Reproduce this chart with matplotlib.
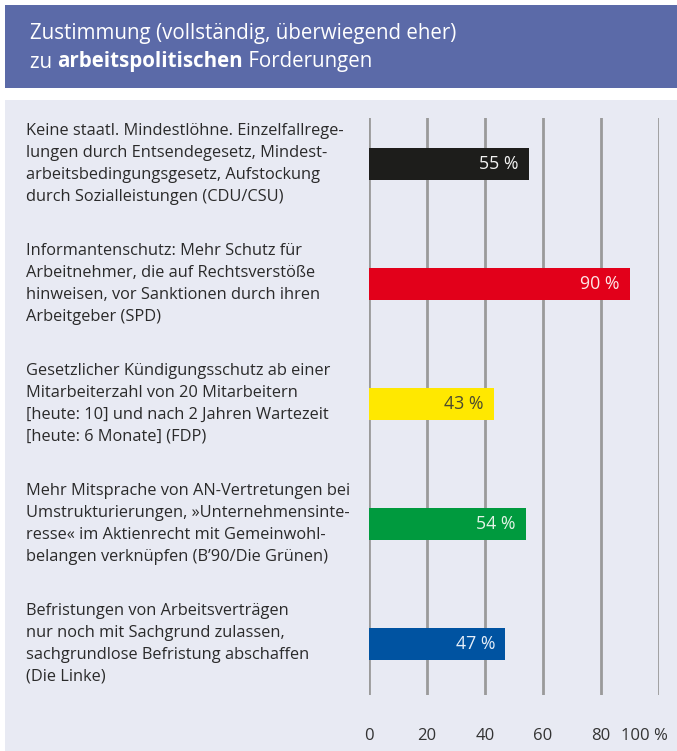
import matplotlib
matplotlib.use("Agg")
import matplotlib.pyplot as plt
from matplotlib import font_manager
from matplotlib.patches import Rectangle
from matplotlib.transforms import blended_transform_factory, offset_copy

names = {f.name for f in font_manager.fontManager.ttflist}
FONT = "Liberation Sans Narrow" if "Liberation Sans Narrow" in names else "Open Sans"
plt.rcParams['font.family'] = [FONT, 'DejaVu Sans']

labels = [
    "Keine staatl. Mindestlöhne. Einzelfallrege-\nlungen durch Entsendegesetz, Mindest-\narbeitsbedingungsgesetz, Aufstockung\ndurch Sozialleistungen (CDU/CSU)",
    "Informantenschutz: Mehr Schutz für\nArbeitnehmer, die auf Rechtsverstöße\nhinweisen, vor Sanktionen durch ihren\nArbeitgeber (SPD)",
    "Gesetzlicher Kündigungsschutz ab einer\nMitarbeiterzahl von 20 Mitarbeitern\n[heute: 10] und nach 2 Jahren Wartezeit\n[heute: 6 Monate] (FDP)",
    "Mehr Mitsprache von AN-Vertretungen bei\nUmstrukturierungen, »Unternehmensinte-\nresse« im Aktienrecht mit Gemeinwohl-\nbelangen verknüpfen (B’90/Die Grünen)",
    "Befristungen von Arbeitsverträgen\nnur noch mit Sachgrund zulassen,\nsachgrundlose Befristung abschaffen\n(Die Linke)",
]
values = [55, 90, 43, 54, 47]
colors = ["#1d1d1b", "#e2001a", "#ffe800", "#009a3e", "#0053a1"]
text_colors = ["#f2f2f2", "#fde6e6", "#4a4a30", "#e3f3e6", "#e6eef8"]
xticks = [0, 20, 40, 60, 80, 100]
xticklabels = ["0", "20", "40", "60", "80", "100 %"]

W, H = 677, 751
fig = plt.figure(figsize=(W / 100, H / 100), dpi=100)
fig.patch.set_facecolor("white")

# backgrounds
fig.patches.append(Rectangle((5 / W, 1 - 88 / H), 1, 83 / H, transform=fig.transFigure,
                             facecolor="#5b6aa8", edgecolor="none", zorder=0))
fig.patches.append(Rectangle((5 / W, 0), 1, 1 - 100 / H, transform=fig.transFigure,
                             facecolor="#e8eaf3", edgecolor="none", zorder=0))

# header text
HFS = 14.8
fig.text(30 / W, 1 - 33 / H, "Zustimmung (vollständig, überwiegend eher)", color="white",
         fontsize=HFS, va="center", ha="left")
renderer = fig.canvas.get_renderer()
x = 30 / W
for part, weight in [("zu ", "normal"), ("arbeitspolitischen", "bold"), (" Forderungen", "normal")]:
    t = fig.text(x, 1 - 62 / H, part, color="white", fontsize=HFS, fontweight=weight,
                 va="center", ha="left")
    bb = t.get_window_extent(renderer)
    x = bb.x1 / W

ax = fig.add_axes([369 / W, 1 - 695 / H, 290 / W, (695 - 118) / H])
ax.set_zorder(5)
ax.set_facecolor("none")
ypos = list(range(len(values)))
ax.set_xlim(0, 100)
ax.set_ylim(4.425, -0.383)
for x0 in xticks:
    ax.axvline(x0, color="#9a9a9a", lw=2, zorder=1)
ax.barh(ypos, values, height=0.27, color=colors, zorder=2)
for y, v, tc in zip(ypos, values, text_colors):
    ax.text(v - 3.5, y, f"{v} %", color=tc, fontsize=12.8, ha="right", va="center", zorder=3)

tr = blended_transform_factory(fig.transFigure, ax.transData)
for y, lab in zip(ypos, labels):
    ax.text(26 / W, y, lab, transform=tr, ha="left", va="center", fontsize=11.8,
            color="#2a2a2a", linespacing=1.5, clip_on=False)

ax.set_yticks([])
ax.set_xticks(xticks)
ax.set_xticklabels(xticklabels, fontsize=12, color="#333333")
ax.tick_params(axis="x", length=0, pad=24)
last = ax.get_xticklabels()[-1]
last.set_ha("right")
last.set_transform(offset_copy(last.get_transform(), fig=fig, x=9, units="dots"))
for s in ax.spines.values():
    s.set_visible(False)

fig.savefig("out.png", dpi=100)
